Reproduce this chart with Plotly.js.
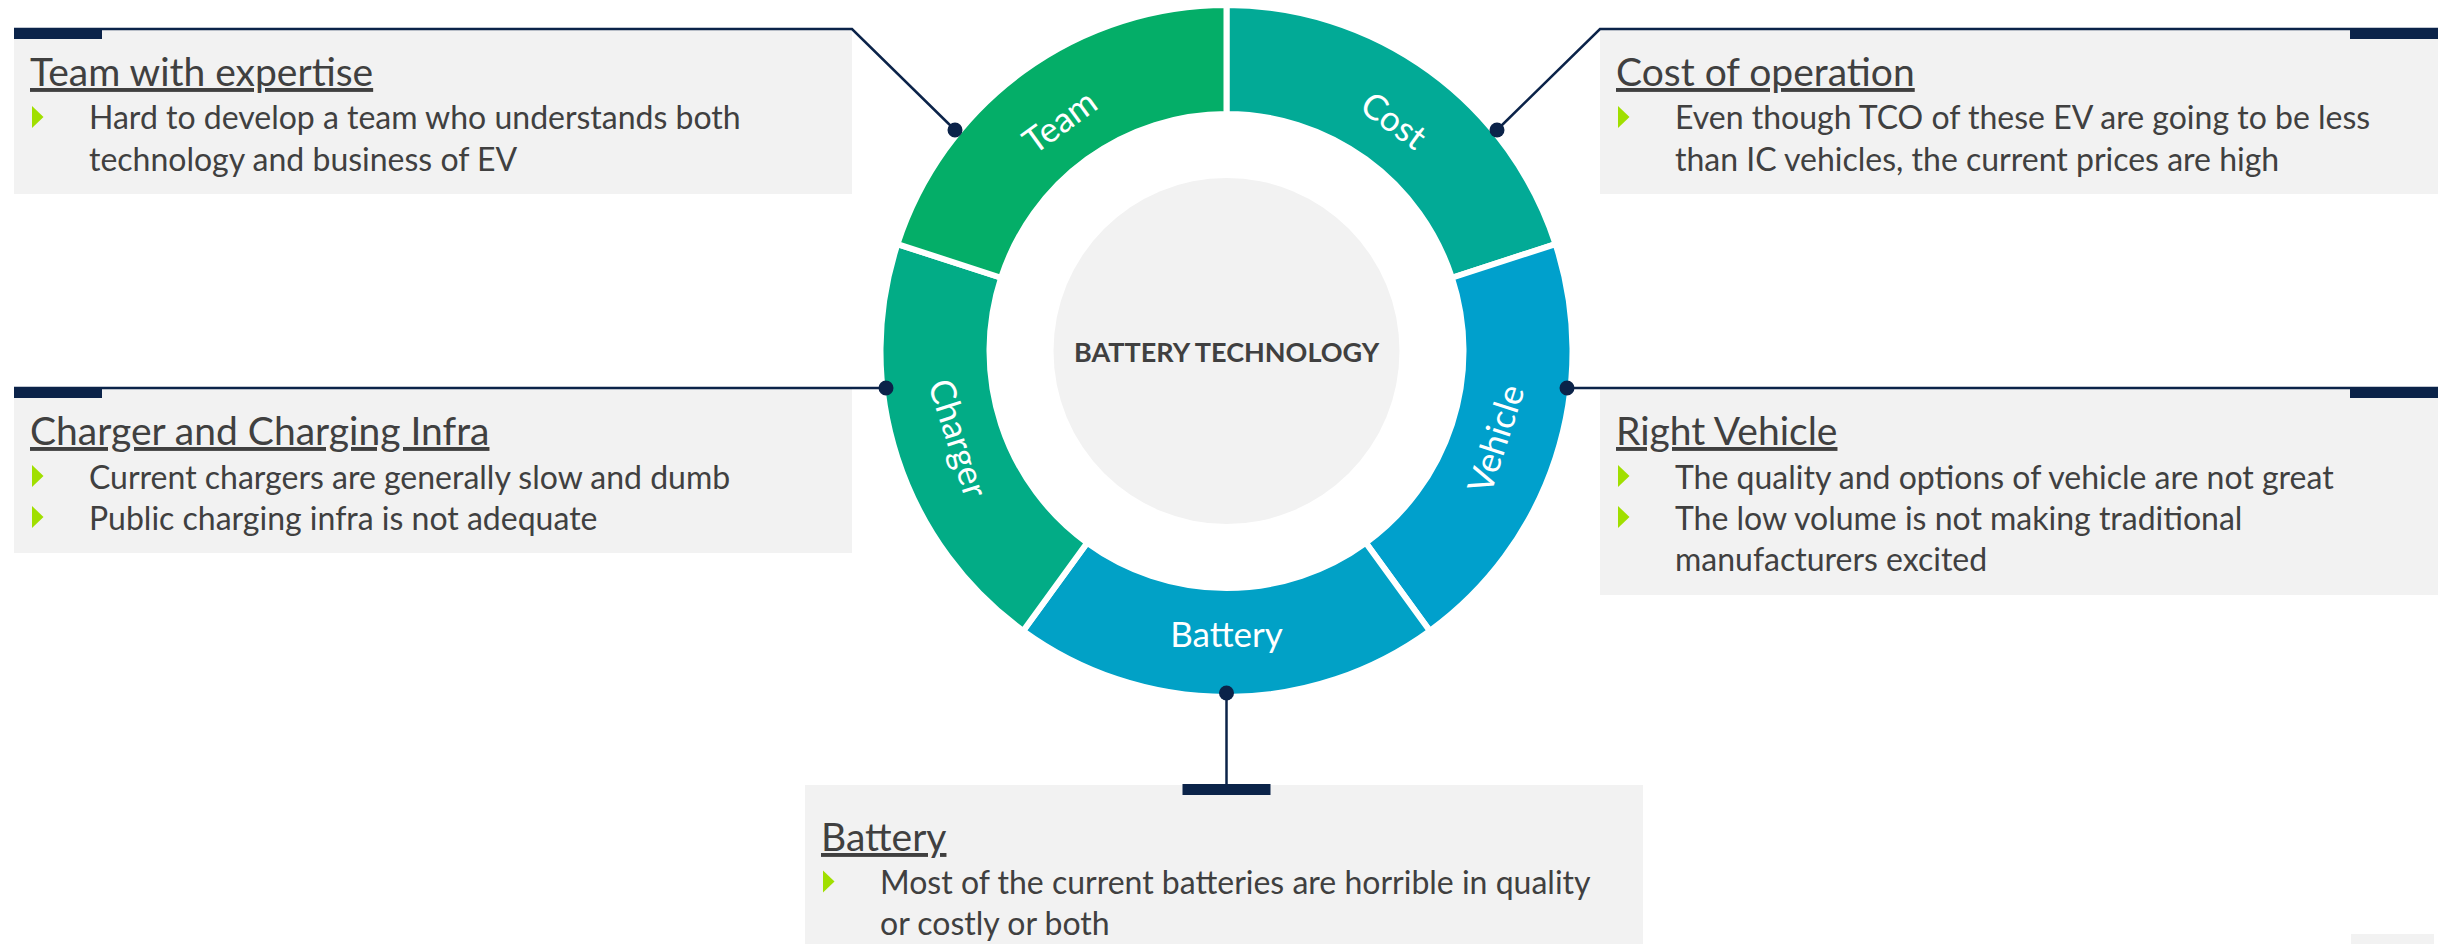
<!DOCTYPE html>
<html><head><meta charset="utf-8">
<script src="https://cdn.plot.ly/plotly-3.0.1.min.js"></script>
<style>html,body{margin:0;padding:0;background:#fff;overflow:hidden}</style>
</head><body><div id="chart" style="width:2447px;height:944px"></div>
<script>
// ---------- data ----------
const categories = ['Cost', 'Vehicle', 'Battery', 'Charger', 'Team'];
const shares = [20, 20, 20, 20, 20];
const centerLabel = 'BATTERY TECHNOLOGY';
const boxTitles = ['Team with expertise', 'Cost of operation', 'Charger and Charging Infra', 'Right Vehicle', 'Battery'];
const teamBullets = [['Hard to develop a team who understands both', 'technology and business of EV']];
const costBullets = [['Even though TCO of these EV are going to be less', 'than IC vehicles, the current prices are high']];
const chargerBullets = [['Current chargers are generally slow and dumb'], ['Public charging infra is not adequate']];
const vehicleBullets = [['The quality and options of vehicle are not great'], ['The low volume is not making traditional', 'manufacturers excited']];
const batteryBullets = [['Most of the current batteries are horrible in quality', 'or costly or both']];
const boxBullets = [teamBullets, costBullets, chargerBullets, vehicleBullets, batteryBullets];

// ---------- style / layout ----------
const W = 2447, H = 944;
const X = px => px / W;
const Y = py => 1 - py / H;
const FONT = 'Lato, "Open Sans", sans-serif';
const NAVY = '#0B2349';
const GREY_BOX = '#F2F2F2';
const TEXT = '#404040';
const LIME = '#A0DF00';
const sliceColors = ['#02AA96', '#00A0CC', '#01A1C6', '#02AC86', '#04AE68'];
const ring = {cx: 1226.5, cy: 351, rOut: 343, rIn: 240, rCore: 173, gap: 6};

const boxes = [
  {x0: 14,   x1: 852,  y0: 29,  y1: 194, tab: 'left',   textTop: 29,    conn: [[14, 29], [852, 29], [955, 130]]},
  {x0: 1600, x1: 2438, y0: 29,  y1: 194, tab: 'right',  textTop: 29,    conn: [[2438, 29], [1600, 29], [1497, 130]]},
  {x0: 14,   x1: 852,  y0: 388, y1: 553, tab: 'left',   textTop: 388,   conn: [[14, 388], [886, 388]]},
  {x0: 1600, x1: 2438, y0: 388, y1: 595, tab: 'right',  textTop: 388,   conn: [[2438, 388], [1567, 388]]},
  {x0: 805,  x1: 1643, y0: 785, y1: 944, tab: 'center', textTop: 793.5, conn: [[1226.5, 785], [1226.5, 693]]}
];

const shapes = [];
const annotations = [];

// centre disc
shapes.push({type: 'circle', xref: 'paper', yref: 'paper', layer: 'below',
  x0: X(ring.cx - ring.rCore), x1: X(ring.cx + ring.rCore), y0: Y(ring.cy + ring.rCore), y1: Y(ring.cy - ring.rCore),
  fillcolor: GREY_BOX, line: {width: 0}});
// small grey corner patch
shapes.push({type: 'rect', xref: 'paper', yref: 'paper', layer: 'below',
  x0: X(2351), x1: X(2434), y0: Y(944), y1: Y(934), fillcolor: GREY_BOX, line: {width: 0}});

boxes.forEach((b, i) => {
  shapes.push({type: 'rect', xref: 'paper', yref: 'paper', layer: 'below',
    x0: X(b.x0), x1: X(b.x1), y0: Y(b.y1), y1: Y(b.y0), fillcolor: GREY_BOX, line: {width: 0}});
  // connector
  const p = b.conn.map((pt, k) => (k ? 'L' : 'M') + X(pt[0]) + ',' + Y(pt[1])).join(' ');
  shapes.push({type: 'path', xref: 'paper', yref: 'paper', path: p, line: {color: NAVY, width: 2.5}});
  const end = b.conn[b.conn.length - 1];
  shapes.push({type: 'circle', xref: 'paper', yref: 'paper',
    x0: X(end[0] - 7.5), x1: X(end[0] + 7.5), y0: Y(end[1] + 7.5), y1: Y(end[1] - 7.5),
    fillcolor: NAVY, line: {width: 0}});
  // tab
  let tx0;
  if (b.tab === 'left') tx0 = b.x0;
  else if (b.tab === 'right') tx0 = b.x1 - 88;
  else tx0 = ring.cx - 44;
  shapes.push({type: 'rect', xref: 'paper', yref: 'paper',
    x0: X(tx0), x1: X(tx0 + 88), y0: Y(b.y0 + 10), y1: Y(b.y0 - 1), fillcolor: NAVY, line: {width: 0}});
  // title
  annotations.push({xref: 'paper', yref: 'paper', x: X(b.x0 + 14), y: Y(b.textTop + 42),
    xanchor: 'left', yanchor: 'middle', showarrow: false, text: boxTitles[i],
    font: {family: FONT, size: 39, color: TEXT, lineposition: 'under'}});
  // bullets
  let line = 0;
  boxBullets[i].forEach(bul => {
    bul.forEach((txt, k) => {
      const cy = b.textTop + 88 + line * 41;
      if (k === 0) {
        const bx = b.x0 + 18;
        shapes.push({type: 'path', xref: 'paper', yref: 'paper',
          path: 'M' + X(bx) + ',' + Y(cy - 11) + ' L' + X(bx + 11.5) + ',' + Y(cy) + ' L' + X(bx) + ',' + Y(cy + 11) + ' Z',
          fillcolor: LIME, line: {width: 0}});
      }
      annotations.push({xref: 'paper', yref: 'paper', x: X(b.x0 + 73), y: Y(cy),
        xanchor: 'left', yanchor: 'middle', showarrow: false, text: txt,
        font: {family: FONT, size: 32, color: TEXT}});
      line++;
    });
  });
});

annotations.push({xref: 'paper', yref: 'paper', x: X(ring.cx), y: Y(ring.cy),
  xanchor: 'center', yanchor: 'middle', showarrow: false, text: '<b>' + centerLabel + '</b>',
  font: {family: FONT, size: 27, color: TEXT}});

const rDom = ring.rOut + ring.gap / 2;
const trace = {
  type: 'pie',
  labels: categories,
  values: shares,
  sort: false,
  direction: 'clockwise',
  rotation: 0,
  hole: (ring.rIn - ring.gap / 2) / rDom,
  textinfo: 'label',
  textposition: 'inside',
  insidetextorientation: 'tangential',
  textfont: {family: FONT, size: 35, color: '#FFFFFF'},
  marker: {colors: sliceColors, line: {color: '#FFFFFF', width: ring.gap}},
  hoverinfo: 'none',
  showlegend: false,
  domain: {x: [X(ring.cx - rDom), X(ring.cx + rDom)], y: [Y(ring.cy + rDom), Y(ring.cy - rDom)]}
};

const layout = {
  width: W, height: H,
  margin: {l: 0, r: 0, t: 0, b: 0},
  paper_bgcolor: '#FFFFFF',
  showlegend: false,
  shapes: shapes,
  annotations: annotations
};

Plotly.newPlot('chart', [trace], layout, {displayModeBar: false, staticPlot: true});
</script>
</body></html>
